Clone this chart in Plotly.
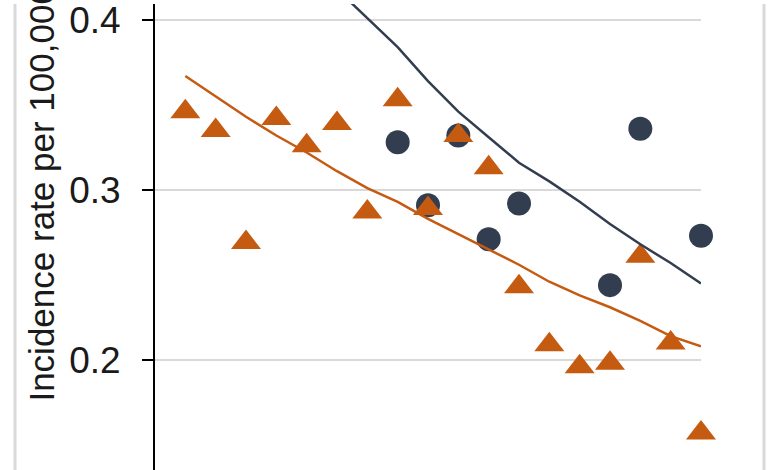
import plotly.graph_objects as go

# ---- data ----
idx = list(range(18))
tri_vals = [0.346, 0.335, 0.269, 0.342, 0.326, 0.339, 0.287, 0.353, 0.289,
            0.332, 0.313, 0.243, 0.209, 0.196, 0.198, 0.261, 0.210, 0.157]
circ_idx = [7, 8, 9, 10, 11, 14, 15, 17]
circ_vals = [0.328, 0.291, 0.332, 0.271, 0.292, 0.244, 0.336, 0.273]
orange_line = [0.367, 0.355, 0.343, 0.332, 0.322, 0.311, 0.301, 0.293, 0.283,
               0.274, 0.265, 0.256, 0.246, 0.238, 0.231, 0.223, 0.214, 0.208]
navy_line_idx = [5, 6, 7, 8, 9, 10, 11, 12, 13, 14, 15, 16, 17]
navy_line = [0.418, 0.401, 0.384, 0.364, 0.346, 0.331, 0.316, 0.305, 0.293,
             0.280, 0.268, 0.257, 0.245]
y_ticks = [0.2, 0.3, 0.4]
y_ticktext = ["0.2", "0.3", "0.4"]
y_title = "Incidence rate per 100,000"

ORANGE = "#C55A11"
NAVY = "#323E4F"

W, H = 780, 470
L, R = 155, 79
plot_w = W - L - R

fig = go.Figure()
fig.add_trace(go.Scatter(x=circ_idx, y=circ_vals, mode="markers", cliponaxis=False,
                         marker=dict(symbol="circle", size=24, color=NAVY),
                         showlegend=False))
fig.add_trace(go.Scatter(x=idx, y=tri_vals, mode="markers", cliponaxis=False,
                         marker=dict(symbol="triangle-up", size=26, color=ORANGE),
                         showlegend=False))
fig.add_trace(go.Scatter(x=idx, y=orange_line, mode="lines",
                         line=dict(color=ORANGE, width=2.5), showlegend=False))
fig.add_trace(go.Scatter(x=navy_line_idx, y=navy_line, mode="lines",
                         line=dict(color=NAVY, width=2.5), showlegend=False))

fig.update_layout(
    width=W, height=H,
    margin=dict(l=L, r=R, t=0, b=0),
    paper_bgcolor="white", plot_bgcolor="white",
    font=dict(family="Liberation Sans, Arial, sans-serif", color="#1a1a1a"),
    xaxis=dict(range=[-1, 17], visible=False, showgrid=False, zeroline=False),
    yaxis=dict(range=[0.13528, 0.40933], tickvals=y_ticks, ticktext=y_ticktext,
               showgrid=True, gridcolor="#d9d9d9", gridwidth=2,
               showline=True, linecolor="black", linewidth=2,
               ticks="outside", ticklen=11, tickwidth=2, tickcolor="black",
               ticklabelstandoff=14, ticklabeloverflow="allow",
               tickfont=dict(size=37, color="#1a1a1a"), zeroline=False),
    annotations=[dict(text=y_title, textangle=-90, showarrow=False,
                      xref="paper", yref="paper",
                      x=(42 - L) / plot_w, xanchor="center",
                      y=(H - 403) / H, yanchor="bottom",
                      font=dict(size=35, color="#1a1a1a"))],
    shapes=[
        dict(type="line", xref="paper", yref="paper",
             x0=(15 - L) / plot_w, x1=(15 - L) / plot_w, y0=0, y1=1,
             line=dict(color="#d9d9d9", width=3)),
        dict(type="line", xref="paper", yref="paper",
             x0=(764 - L) / plot_w, x1=(764 - L) / plot_w, y0=0, y1=1,
             line=dict(color="#d9d9d9", width=3)),
    ],
)

fig.write_html("out.html", config={"displayModeBar": False},
               post_script="document.body.style.margin='0';document.body.style.overflow='hidden';")
